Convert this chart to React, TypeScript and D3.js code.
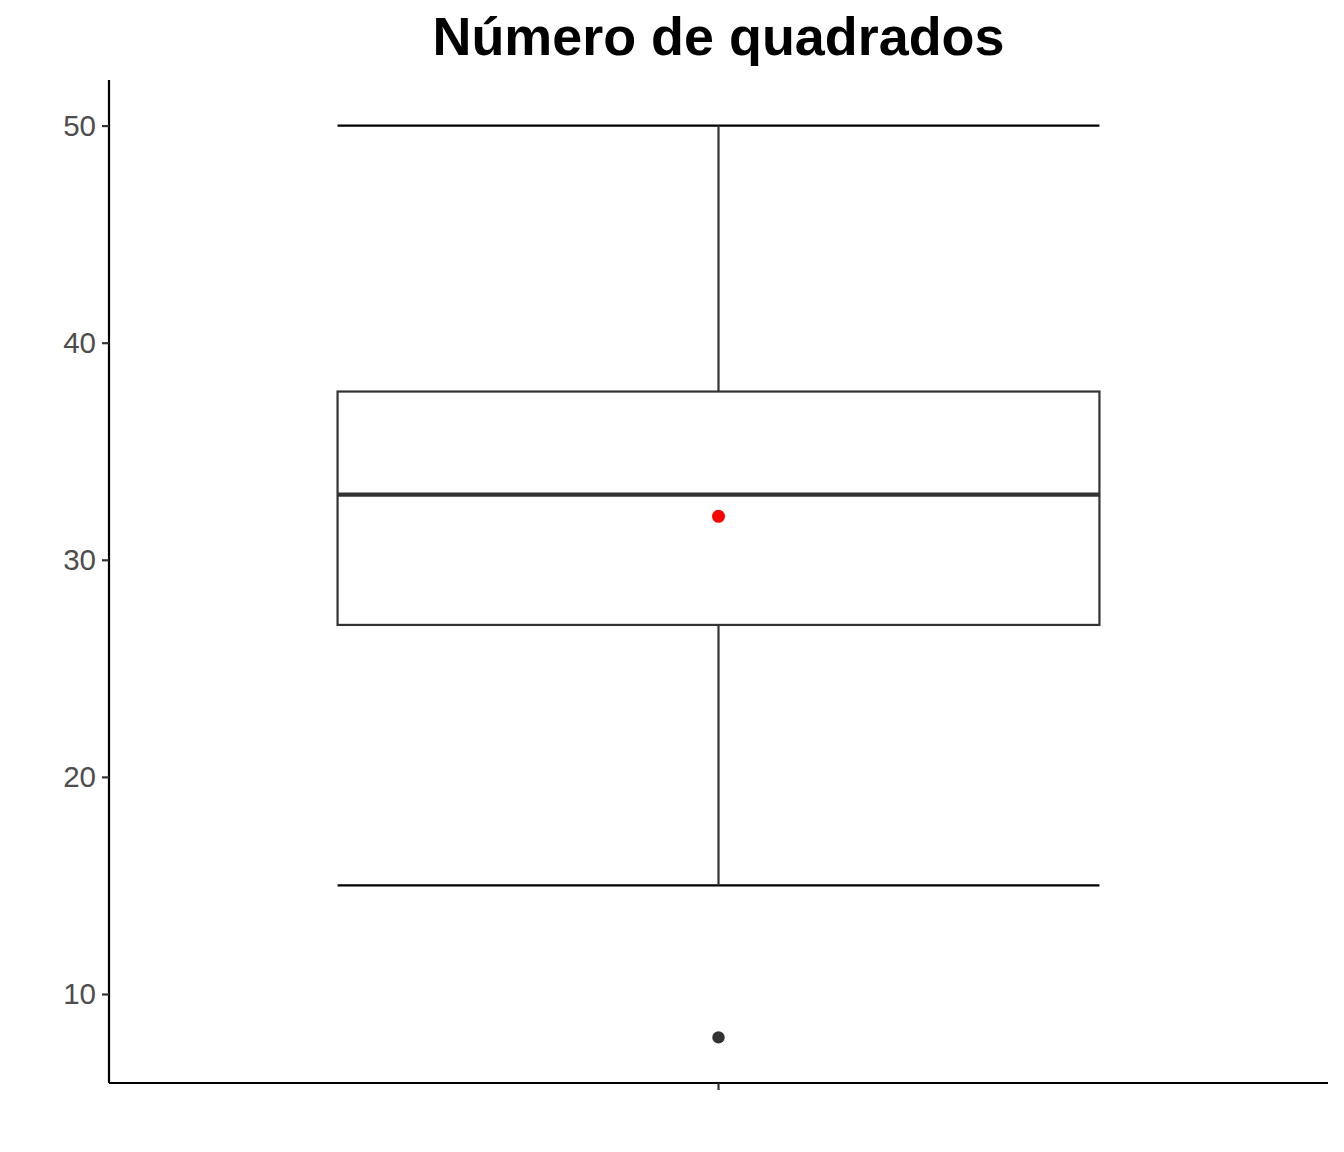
import { useRef, useEffect } from 'react';
import * as d3 from 'd3';

// Box summary
const categories = ['Número de quadrados'];
const whiskerLow = [15];
const q1 = [27];
const median = [33];
const q3 = [37.75];
const whiskerHigh = [50];
const means = [32];
const outliers = [8];
const yTicks = [10, 20, 30, 40, 50];

const W = 1344;
const H = 1152;

export default function App() {
    const ref = useRef<SVGSVGElement>(null);

    useEffect(() => {
        if (!ref.current) return;
        const svg = d3.select(ref.current);
        svg.selectAll('*').remove();

        const margin = { top: 80, right: 16, bottom: 69, left: 109 };
        const width = W - margin.left - margin.right;
        const height = H - margin.top - margin.bottom;

        const lo = d3.min([...outliers, ...whiskerLow]) as number;
        const hi = d3.max([...whiskerHigh]) as number;
        const pad = (hi - lo) * 0.05;

        const y = d3.scaleLinear().domain([lo - pad, hi + pad]).range([height, 0]);
        const x = d3.scaleBand().domain(categories).range([0, width]).padding(0.25);
        // ggplot: the discrete axis is expanded by 0.6, box width 0.75 of a unit
        const xc = d3.scaleLinear().domain([0.4, 1.6]).range([0, width]);

        const g = svg.append('g').attr('transform', `translate(${margin.left},${margin.top})`);

        // Title
        svg.append('text')
            .attr('x', margin.left + width / 2)
            .attr('y', 55)
            .attr('text-anchor', 'middle')
            .attr('font-family', '"Liberation Sans", Arial, sans-serif')
            .attr('font-weight', 'bold')
            .attr('font-size', 54)
            .attr('textLength', 572)
            .attr('lengthAdjust', 'spacingAndGlyphs')
            .attr('fill', '#000')
            .text(categories[0]);

        categories.forEach((c, i) => {
            const cx = xc(i + 1);
            const left = xc(i + 1 - 0.375);
            const right = xc(i + 1 + 0.375);

            // whisker caps (errorbar)
            [whiskerLow[i], whiskerHigh[i]].forEach(v => {
                g.append('line')
                    .attr('x1', left).attr('x2', right)
                    .attr('y1', y(v)).attr('y2', y(v))
                    .attr('stroke', '#000').attr('stroke-width', 2.2);
            });

            // whiskers
            g.append('line')
                .attr('x1', cx).attr('x2', cx)
                .attr('y1', y(q3[i])).attr('y2', y(whiskerHigh[i]))
                .attr('stroke', '#333').attr('stroke-width', 2.2);
            g.append('line')
                .attr('x1', cx).attr('x2', cx)
                .attr('y1', y(q1[i])).attr('y2', y(whiskerLow[i]))
                .attr('stroke', '#333').attr('stroke-width', 2.2);

            // box
            g.append('rect')
                .attr('x', left)
                .attr('y', y(q3[i]))
                .attr('width', right - left)
                .attr('height', y(q1[i]) - y(q3[i]))
                .attr('fill', '#fff')
                .attr('stroke', '#333')
                .attr('stroke-width', 2.2);

            // median
            g.append('line')
                .attr('x1', left).attr('x2', right)
                .attr('y1', y(median[i])).attr('y2', y(median[i]))
                .attr('stroke', '#333').attr('stroke-width', 4.4);

            // outliers
            outliers.forEach(v => {
                g.append('circle')
                    .attr('cx', cx).attr('cy', y(v)).attr('r', 6.2)
                    .attr('fill', '#333');
            });

            // mean
            g.append('circle')
                .attr('cx', cx).attr('cy', y(means[i])).attr('r', 6.5)
                .attr('fill', '#ff0000');
        });

        // y axis
        const yAxis = g.append('g')
            .call(d3.axisLeft(y).tickValues(yTicks).tickSize(7).tickPadding(6));
        yAxis.select('.domain').attr('stroke', '#000').attr('stroke-width', 2.2)
            .attr('d', `M0,${height}V0`);
        yAxis.selectAll('.tick line').attr('stroke', '#333').attr('stroke-width', 2.2);
        yAxis.selectAll('.tick text')
            .attr('fill', '#4d4d4d')
            .attr('font-size', 29.5)
            .attr('font-family', '"Liberation Sans", Arial, sans-serif');

        // x axis
        const xAxis = g.append('g')
            .attr('transform', `translate(0,${height})`)
            .call(d3.axisBottom(x).tickSize(7).tickFormat(() => ''));
        xAxis.select('.domain').attr('stroke', '#000').attr('stroke-width', 2.2)
            .attr('d', `M0,0H${width}`);
        xAxis.selectAll('.tick line').attr('stroke', '#333').attr('stroke-width', 2.2);
    }, []);

    return (
        <svg
            ref={ref}
            width={W}
            height={H}
            style={{ position: 'absolute', left: 0, top: 0, background: '#fff' }}
        />
    );
}
